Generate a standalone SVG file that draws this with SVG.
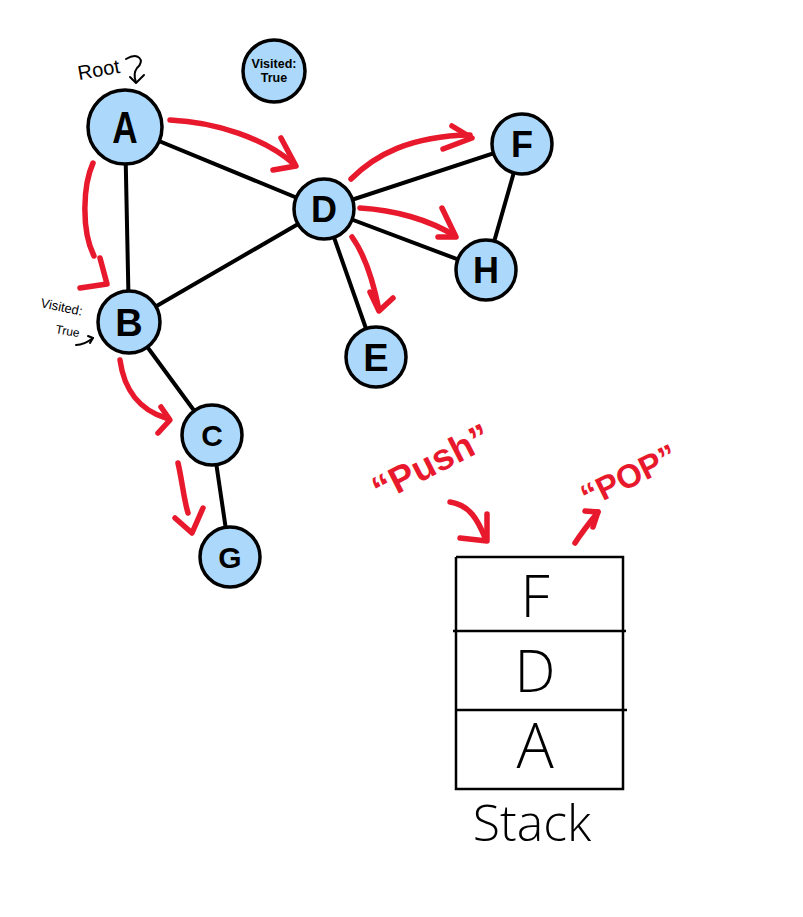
<svg xmlns="http://www.w3.org/2000/svg" width="803" height="917" viewBox="0 0 803 917">
<style>
.edge{stroke:#000;stroke-width:4;fill:none;stroke-linecap:round}
.node circle{fill:#acd9fb;stroke:#000;stroke-width:3.5}
.lbl{font-family:"Liberation Sans",Arial,sans-serif;font-weight:bold;fill:#000;text-anchor:middle}
.red{stroke:#e8192c;stroke-width:5.5;fill:none;stroke-linecap:round;stroke-linejoin:round}
.redtxt{font-family:"Liberation Sans",Arial,sans-serif;font-weight:bold;fill:#e8192c;text-anchor:middle}
.hand{font-family:"Liberation Sans",Arial,sans-serif;fill:#000}
.light{font-family:"Open Sans","Liberation Sans",Arial,sans-serif;font-weight:300;fill:#000;text-anchor:middle}
.stackline{stroke:#000;stroke-width:2.5;fill:none}
.thin{stroke:#000;stroke-width:2;fill:none;stroke-linecap:round;stroke-linejoin:round}
</style>
<rect width="803" height="917" fill="#fff"/>
<g id="edges">
<line class="edge" x1="125" y1="127" x2="129" y2="322"/>
<line class="edge" x1="125" y1="127" x2="324" y2="209"/>
<line class="edge" x1="129" y1="322" x2="324" y2="209"/>
<line class="edge" x1="129" y1="322" x2="212" y2="435"/>
<line class="edge" x1="212" y1="435" x2="230" y2="557"/>
<line class="edge" x1="324" y1="209" x2="522" y2="144"/>
<line class="edge" x1="324" y1="209" x2="486" y2="270"/>
<line class="edge" x1="324" y1="209" x2="376" y2="357"/>
<line class="edge" x1="522" y1="144" x2="486" y2="270"/>
</g>
<g id="node-A" class="node"><circle cx="125" cy="127" r="37"/><text class="lbl" x="125" y="143" font-size="44" font-weight="normal" transform="translate(125 0) scale(0.8 1) translate(-125 0)">A</text></g>
<g id="node-visited" class="node"><circle cx="274" cy="71" r="31"/><text class="lbl" x="274" y="68" font-size="12.5">Visited:</text><text class="lbl" x="274" y="82" font-size="12.5">True</text></g>
<g id="node-B" class="node"><circle cx="129" cy="322" r="31"/><text class="lbl" x="129" y="336" font-size="38">B</text></g>
<g id="node-C" class="node"><circle cx="212" cy="435" r="30"/><text class="lbl" x="212" y="446" font-size="30">C</text></g>
<g id="node-G" class="node"><circle cx="230" cy="557" r="30"/><text class="lbl" x="230" y="568" font-size="30">G</text></g>
<g id="node-D" class="node"><circle cx="324" cy="209" r="30"/><text class="lbl" x="324" y="222" font-size="36" font-weight="normal">D</text></g>
<g id="node-F" class="node"><circle cx="522" cy="144" r="30"/><text class="lbl" x="522" y="157" font-size="36" font-weight="normal">F</text></g>
<g id="node-H" class="node"><circle cx="486" cy="270" r="30"/><text class="lbl" x="486" y="283" font-size="36">H</text></g>
<g id="node-E" class="node"><circle cx="376" cy="357" r="30"/><text class="lbl" x="376" y="371" font-size="38">E</text></g>
<g id="red-arrows">
<path class="red" d="M170,120 C215,122 265,138 295,165"/>
<polyline class="red" points="281,138 296,166 273,170"/>
<path class="red" d="M351,179 C375,155 410,136 470,135"/>
<polyline class="red" points="452,126 472,138 443,149"/>
<path class="red" d="M360,208 C395,210 430,220 455,236"/>
<polyline class="red" points="442,208 456,237 438,237"/>
<path class="red" d="M352,237 C365,255 374,285 379,310"/>
<polyline class="red" points="370,292 379,311 393,298"/>
<path class="red" d="M93,163 C83,185 81,230 94,256"/>
<polyline class="red" points="100,258 107,284 80,288"/>
<path class="red" d="M120,360 C124,390 140,410 166,418"/>
<polyline class="red" points="161,407 170,420 158,433"/>
<path class="red" d="M178,463 C182,480 184,500 188,513"/>
<polyline class="red" points="175,518 192,533 203,508"/>
<path class="red" d="M450,502 C470,505 478,520 486,540"/>
<polyline class="red" points="487,514 487,541 460,538"/>
<path class="red" d="M575,543 C582,532 590,522 598,512"/>
<polyline class="red" points="585,511 598,512 593,527"/>
</g>
<g id="push-label"><text class="redtxt" x="437" y="474" font-size="37" transform="rotate(-27 437 474)">“Push”</text></g>
<g id="pop-label"><text class="redtxt" x="634" y="486" font-size="33" transform="rotate(-26 634 486)">“POP”</text></g>
<g id="root-label">
<text class="hand" x="79" y="80" font-size="20" transform="rotate(-10 79 80)">Root</text>
<path class="thin" d="M126,59 C138,52 146,60 137,68 C134,72 134,77 136,82"/>
<polyline class="thin" points="130,77 136,83 144,75"/>
</g>
<g id="b-visited-label">
<text class="hand" x="40" y="307" font-size="13" transform="rotate(12 40 307)">Visited:</text>
<text class="hand" x="55" y="333" font-size="12" transform="rotate(10 55 333)">True</text>
<path class="thin" d="M76,345 C83,345 88,342 93,338" stroke-width="1.5"/>
<polyline class="thin" points="88,336 93,338 90,343" stroke-width="1.5"/>
</g>
<g id="stack">
<polyline class="stackline" points="456,557 623,557 623,789 456,789 456,557"/>
<line class="stackline" x1="453" y1="631" x2="626" y2="631"/>
<line class="stackline" x1="456" y1="710" x2="627" y2="710"/>
<text class="light" x="535" y="617" font-size="58">F</text>
<text class="light" x="535" y="692" font-size="58">D</text>
<text class="light" x="535" y="768" font-size="62">A</text>
<text class="light" x="532" y="841" font-size="50">Stack</text>
</g>
</svg>
